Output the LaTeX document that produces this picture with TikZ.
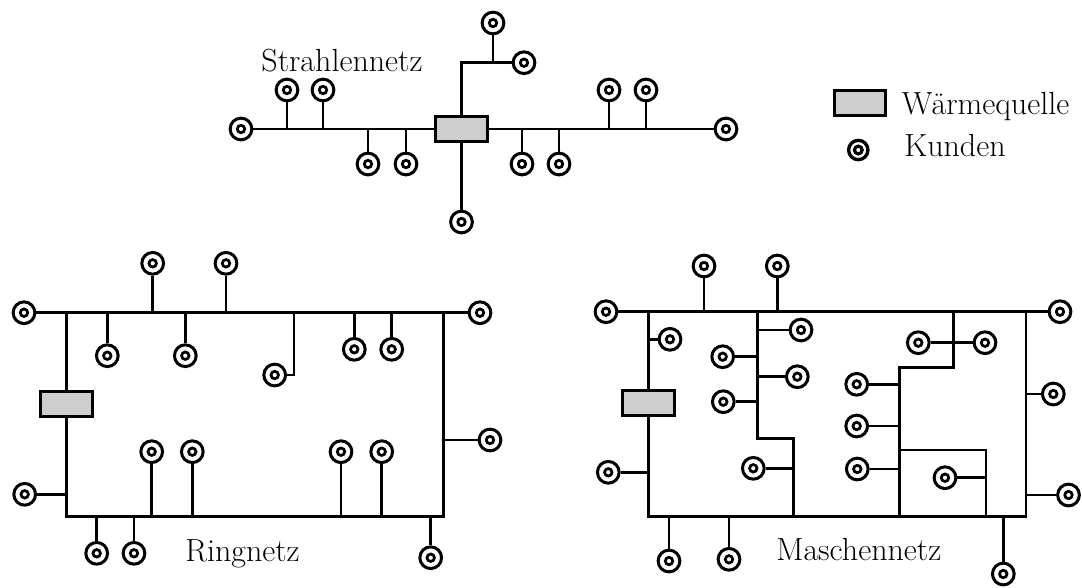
\documentclass[tikz,border=0pt]{standalone}
\definecolor{srcgray}{RGB}{206,206,206}
\begin{document}
\begin{tikzpicture}[x=0.75pt,y=-0.75pt,
  net/.style={line width=2.15pt},
  cust/.style={circle, draw, line width=2.25pt, fill=white, minimum size=16.3pt, inner sep=0pt,
    path picture={\draw[line width=2.05pt] (path picture bounding box.center) circle (2.8pt);}},
  lcust/.style={cust, line width=2.5pt, minimum size=14.5pt,
    path picture={\draw[line width=2.4pt] (path picture bounding box.center) circle (2.9pt);}},
  src/.style={rectangle, draw, line width=2.3pt, fill=srcgray, minimum width=38.7pt, minimum height=18.5pt, inner sep=0pt},
  lbl/.style={font=\fontsize{24}{28}\selectfont, inner sep=0pt, anchor=base}]
\useasboundingbox (0,0) rectangle (1082,587);

% ---------------- Strahlennetz ----------------
\node[src] (ss) at (461.5,129) {};
\node[cust] (sL) at (241,129) {};
\node[cust] (sR) at (726,129) {};
\node[cust] (s1) at (287,90) {};
\node[cust] (s2) at (323,90) {};
\node[cust] (s3) at (368,164) {};
\node[cust] (s4) at (406,164) {};
\node[cust] (s5) at (522,164) {};
\node[cust] (s6) at (559,164) {};
\node[cust] (s7) at (609,90) {};
\node[cust] (s8) at (646,90) {};
\node[cust] (sT1) at (493,23) {};
\node[cust] (sT2) at (524,62.7) {};
\node[cust] (sB) at (461.5,222) {};
\draw[net] (sL) -- (ss);
\draw[net] (ss) -- (sR);
\foreach \c in {s1,s2,s3,s4,s5,s6,s7,s8} \draw[net] (\c) -- (\c |- sL);
\draw[net] (ss) -- (ss |- sT2) -- (sT2);
\draw[net] (sT1) -- (sT1 |- sT2);
\draw[net] (ss) -- (sB);
\node[lbl] (tS) at (342,71.7) {Strahlennetz};

% ---------------- Legende ----------------
\node[src] (lg) at (860,103) {};
\node[lcust] (lc) at (858.3,150) {};
\node[lbl, anchor=base west] (tW) at (901.7,114) {Wärmequelle};
\node[lbl, anchor=base west] (tK) at (904,156.7) {Kunden};

% ---------------- Ringnetz ----------------
\node[src] (rs) at (66.7,403.7) {};
\coordinate (rTL) at (66.7,312.7);
\coordinate (rTR) at (443.3,312.7);
\coordinate (rBL) at (66.7,516.7);
\coordinate (rBR) at (443.3,516.7);
\coordinate (rK) at (294,312.7);
\node[cust] (rA) at (24,312.7) {};
\node[cust] (rB) at (480,312.7) {};
\node[cust] (rt1) at (152.7,263.3) {};
\node[cust] (rt2) at (226,263.3) {};
\node[cust] (rd1) at (107.3,355.7) {};
\node[cust] (rd2) at (185.3,355.7) {};
\node[cust] (rd3) at (274.7,375) {};
\node[cust] (rd4) at (354.3,349.3) {};
\node[cust] (rd5) at (391.7,349.3) {};
\node[cust] (rR) at (490,440) {};
\node[cust] (rLc) at (24.7,494.3) {};
\node[cust] (rb1) at (151.7,451.7) {};
\node[cust] (rb2) at (192.3,451.7) {};
\node[cust] (rb3) at (341,451.7) {};
\node[cust] (rb4) at (381.7,451.7) {};
\node[cust] (rbd1) at (96.7,553.3) {};
\node[cust] (rbd2) at (134,553.3) {};
\node[cust] (rbd3) at (430.7,557.7) {};
\draw[net] (rA) -- (rB);
\draw[net] (rs) -- (rTL);
\draw[net] (rs) -- (rBL) -- (rBR) -- (rTR);
\foreach \c in {rt1,rt2,rd1,rd2,rd4,rd5} \draw[net] (\c) -- (\c |- rTL);
\draw[net] (rd3) -| (rK);
\draw[net] (rR) -- (rR -| rTR);
\draw[net] (rLc) -- (rLc -| rTL);
\foreach \c in {rb1,rb2,rb3,rb4,rbd1,rbd2,rbd3} \draw[net] (\c) -- (\c |- rBL);
\node[lbl] (tR) at (242.5,561.5) {Ringnetz};

% ---------------- Maschennetz ----------------
\node[src] (ms) at (648.5,403) {};
\coordinate (mTL) at (648.5,311.7);
\coordinate (mTR) at (1026,311.7);
\coordinate (mBL) at (648.5,516.7);
\coordinate (mBR) at (1026,516.7);
\node[cust] (mA) at (606,311.7) {};
\node[cust] (mB) at (1060,311.7) {};
\node[cust] (mt1) at (704,266) {};
\node[cust] (mt2) at (777.3,266) {};
\node[cust] (mc1) at (670,339.3) {};
\node[cust] (mLc) at (608.3,472.3) {};
\node[cust] (mbd1) at (669,561) {};
\node[cust] (mbd2) at (729,559.3) {};
\node[cust] (mbd3) at (1003.3,574) {};
\draw[net] (mA) -- (mB);
\draw[net] (ms) -- (mTL);
\draw[net] (ms) -- (mBL) -- (mBR) -- (mTR);
\draw[net] (mt1) -- (mt1 |- mTL);
\draw[net] (mt2) -- (mt2 |- mTL);
\draw[net] (mc1) -- (mc1 -| mTL);
\draw[net] (mLc) -- (mLc -| mTL);
\foreach \c in {mbd1,mbd2,mbd3} \draw[net] (\c) -- (\c |- mBL);
% inner line A
\coordinate (mAt) at (757.3,311.7);
\coordinate (mAk) at (757.3,438.7);
\coordinate (mAk2) at (793.3,438.7);
\coordinate (mAb) at (793.3,516.7);
\draw[net] (mAt) -- (mAk) -- (mAk2) -- (mAb);
\node[cust] (ma1) at (801,330) {};
\node[cust] (ma2) at (722.7,356.7) {};
\node[cust] (ma3) at (797.3,376.7) {};
\node[cust] (ma4) at (723.3,401.7) {};
\node[cust] (ma5) at (753.3,468.3) {};
\foreach \c in {ma1,ma2,ma3,ma4} \draw[net] (\c) -- (\c -| mAt);
\draw[net] (ma5) -- (ma5 -| mAb);
% inner line B
\coordinate (mBt) at (953.3,311.7);
\coordinate (mBk) at (953.3,367.7);
\coordinate (mBk2) at (899.3,367.7);
\coordinate (mBb) at (899.3,516.7);
\draw[net] (mBt) -- (mBk) -- (mBk2) -- (mBb);
\node[cust] (mb1) at (918.3,342.7) {};
\node[cust] (mb2) at (985,342.7) {};
\draw[net] (mb1) -- (mb2);
\node[cust] (mb3) at (856.7,384.3) {};
\node[cust] (mb4) at (856.7,426) {};
\node[cust] (mb5) at (857.3,469) {};
\foreach \c in {mb3,mb4,mb5} \draw[net] (\c) -- (\c -| mBb);
\coordinate (mX1) at (899.3,450);
\coordinate (mX2) at (986,450);
\coordinate (mX3) at (986,516.7);
\draw[net] (mX1) -- (mX2) -- (mX3);
\node[cust] (mb6) at (945,477.7) {};
\draw[net] (mb6) -- (mb6 -| mX2);
\node[cust] (mR1) at (1053.3,394) {};
\node[cust] (mR2) at (1068.5,495) {};
\draw[net] (mR1) -- (mR1 -| mTR);
\draw[net] (mR2) -- (mR2 -| mTR);
\node[lbl] (tM) at (858.8,560.7) {Maschennetz};
\end{tikzpicture}
\end{document}
